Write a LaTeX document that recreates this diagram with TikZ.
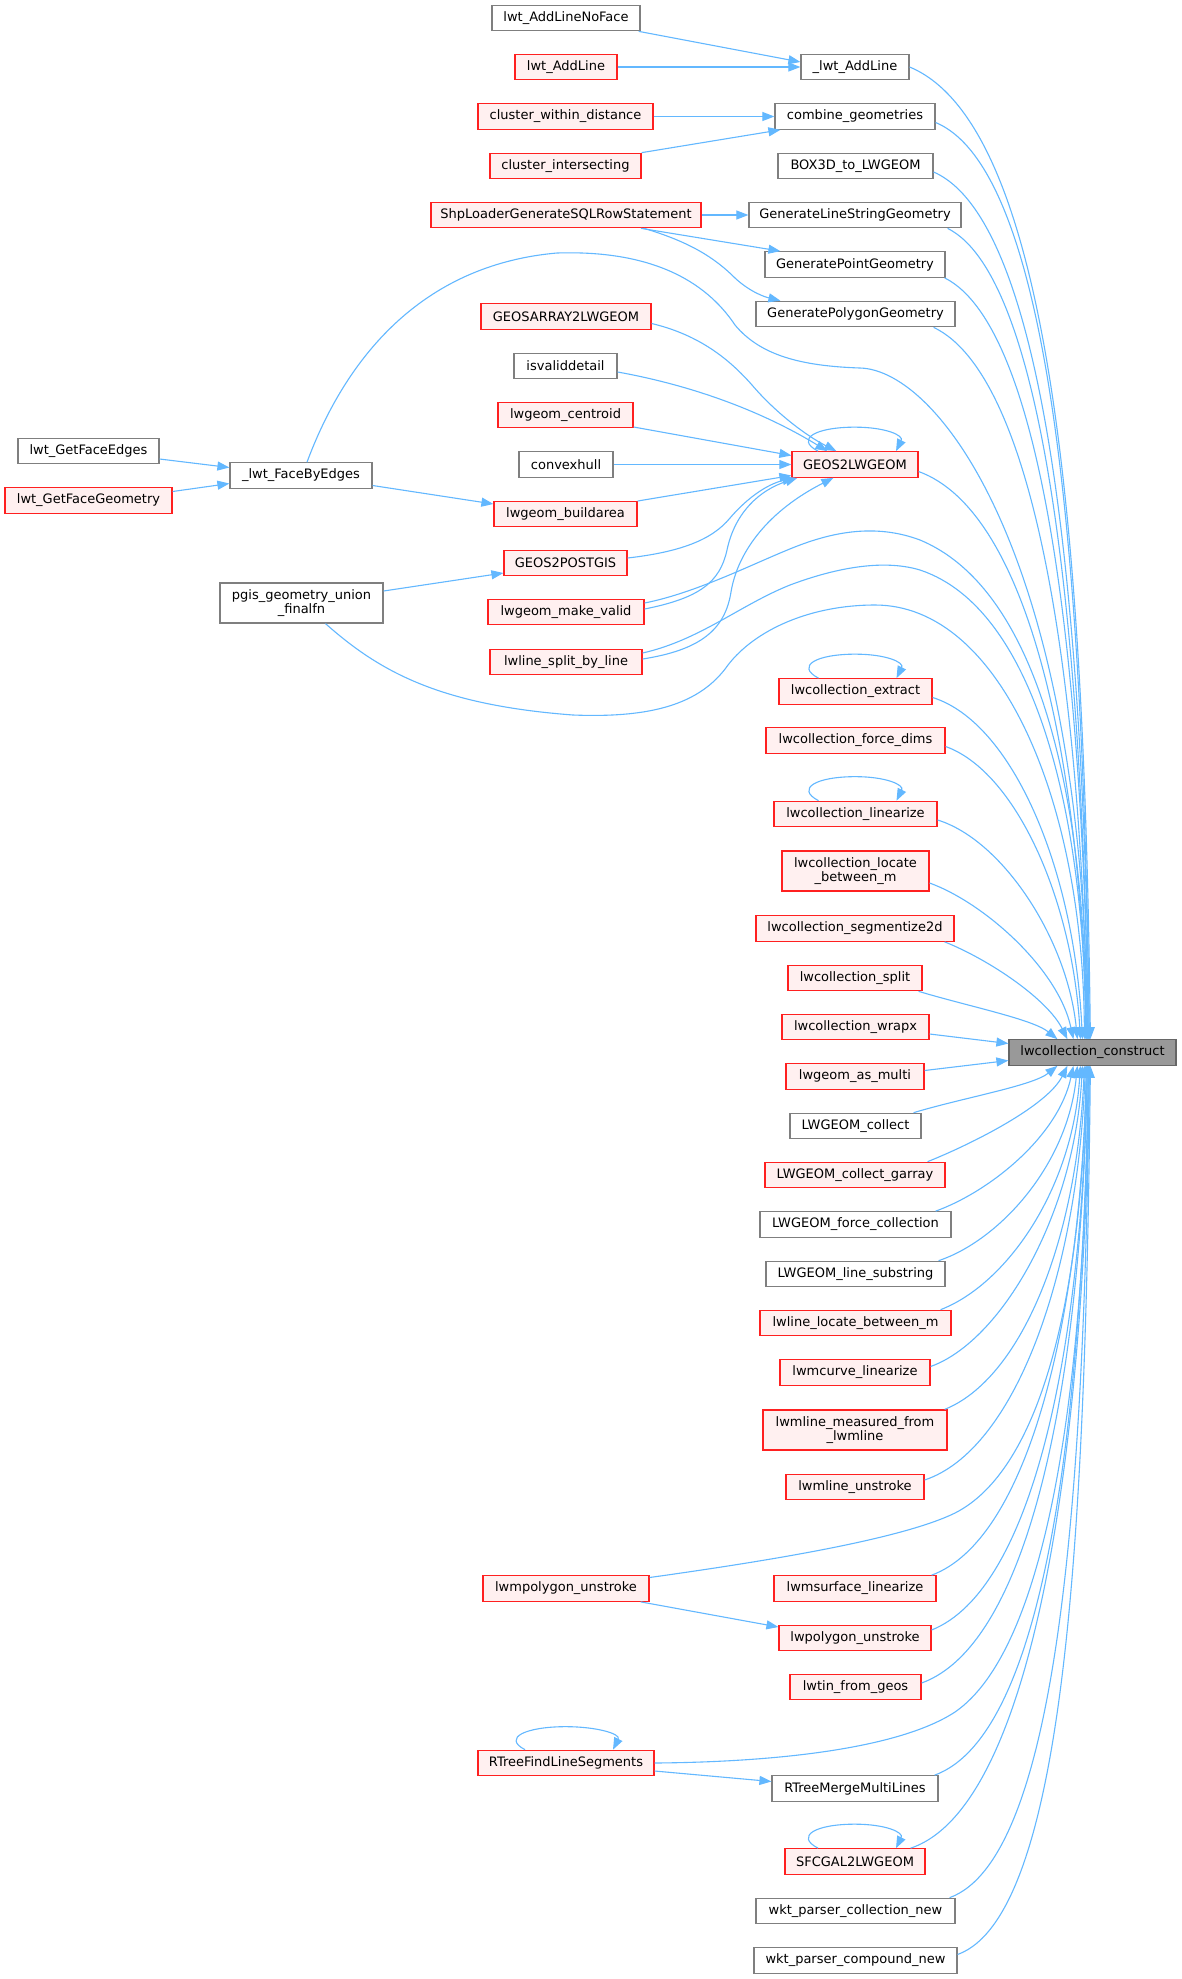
\documentclass[tikz,border=0pt]{standalone}
\usepackage{fontspec}
\setmainfont{DejaVu Sans}
\usetikzlibrary{arrows.meta,calc}
\definecolor{eblue}{HTML}{63B8FF}
\definecolor{rborder}{HTML}{FF2020}
\definecolor{rfill}{HTML}{FFF0F0}
\definecolor{gborder}{HTML}{7F7F7F}
\definecolor{rootfill}{HTML}{999999}
\definecolor{rootborder}{HTML}{666666}
\begin{document}
\begin{tikzpicture}[x=1pt,y=-1pt,
 box/.style={draw, line width=1.2pt, inner sep=0pt, minimum height=25.5pt, font=\fontsize{13}{14.5}\selectfont, align=center},
 rn/.style={box, draw=rborder, fill=rfill},
 gn/.style={box, draw=gborder, fill=white},
 rootn/.style={box, draw=rootborder, fill=rootfill},
 e/.style={draw=eblue, line width=1.1pt, -{Triangle[length=12pt,width=9pt]}},
]
\fill[white] (0,0) rectangle (1181,1979);
\useasboundingbox (0,0) rectangle (1181,1979);

% column 1
\node[gn, minimum width=141pt] (getFaceEdges) at (88.5,451) {lwt\_GetFaceEdges};
\node[rn, minimum width=167pt] (getFaceGeom) at (88.5,500.5) {lwt\_GetFaceGeometry};
% column 2
\node[gn, minimum width=142pt] (faceByEdges) at (301,475.5) {\_lwt\_FaceByEdges};
\node[gn, minimum width=163pt, minimum height=40pt] (pgis) at (301.5,603) {pgis\_geometry\_union\\\_finalfn};
% column 3
\node[gn, minimum width=148pt] (lwtAddLineNoFace) at (566,18) {lwt\_AddLineNoFace};
\node[rn, minimum width=102pt] (lwtAddLine) at (566,67) {lwt\_AddLine};
\node[rn, minimum width=175pt] (clusterWD) at (565.5,116.5) {cluster\_within\_distance};
\node[rn, minimum width=151pt] (clusterI) at (565.5,166) {cluster\_intersecting};
\node[rn, minimum width=270pt] (shpLoader) at (566,215) {ShpLoaderGenerateSQLRowStatement};
\node[rn, minimum width=170pt] (geosArray) at (566,316.5) {GEOSARRAY2LWGEOM};
\node[gn, minimum width=103pt] (isvalid) at (565.5,366) {isvaliddetail};
\node[rn, minimum width=135pt] (centroid) at (565.5,415) {lwgeom\_centroid};
\node[gn, minimum width=94pt] (convexhull) at (566,464.5) {convexhull};
\node[rn, minimum width=143pt] (buildarea) at (565.5,514) {lwgeom\_buildarea};
\node[rn, minimum width=123pt] (geos2postgis) at (565.5,563) {GEOS2POSTGIS};
\node[rn, minimum width=156pt] (makevalid) at (566,612) {lwgeom\_make\_valid};
\node[rn, minimum width=152pt] (splitbyline) at (566,662) {lwline\_split\_by\_line};
\node[rn, minimum width=166pt] (lwmpolygonUn) at (566,1588.5) {lwmpolygon\_unstroke};
\node[rn, minimum width=176pt] (rtreeFind) at (566,1763) {RTreeFindLineSegments};
% column 4
\node[gn, minimum width=108pt] (addLineU) at (855,67) {\_lwt\_AddLine};
\node[gn, minimum width=160pt] (combine) at (855,116.5) {combine\_geometries};
\node[gn, minimum width=155pt] (box3d) at (855.5,166) {BOX3D\_to\_LWGEOM};
\node[gn, minimum width=212pt] (genLS) at (855,215) {GenerateLineStringGeometry};
\node[gn, minimum width=180pt] (genPt) at (855,264.5) {GeneratePointGeometry};
\node[gn, minimum width=199pt] (genPoly) at (855.5,314) {GeneratePolygonGeometry};
\node[rn, minimum width=126pt] (geos2lwgeom) at (855,464.5) {GEOS2LWGEOM};
\node[rn, minimum width=153pt] (lcExtract) at (855.5,691.5) {lwcollection\_extract};
\node[rn, minimum width=179pt] (lcForceDims) at (855.5,740.5) {lwcollection\_force\_dims};
\node[rn, minimum width=163pt] (lcLinearize) at (855.5,814) {lwcollection\_linearize};
\node[rn, minimum width=147pt, minimum height=40pt] (lcLocate) at (855.5,871) {lwcollection\_locate\\\_between\_m};
\node[rn, minimum width=198pt] (lcSeg) at (855,928.5) {lwcollection\_segmentize2d};
\node[rn, minimum width=134pt] (lcSplit) at (855,978) {lwcollection\_split};
\node[rn, minimum width=147pt] (lcWrapx) at (855.5,1027) {lwcollection\_wrapx};
\node[rn, minimum width=138pt] (asMulti) at (855,1076.5) {lwgeom\_as\_multi};
\node[gn, minimum width=131pt] (lwCollect) at (855.5,1126) {LWGEOM\_collect};
\node[rn, minimum width=180pt] (collectGarray) at (855,1175) {LWGEOM\_collect\_garray};
\node[gn, minimum width=191pt] (forceColl) at (855.5,1224.5) {LWGEOM\_force\_collection};
\node[gn, minimum width=179pt] (lineSubstr) at (855.5,1274) {LWGEOM\_line\_substring};
\node[rn, minimum width=191pt] (lwlineLocate) at (855.5,1323) {lwline\_locate\_between\_m};
\node[rn, minimum width=150pt] (lwmcurve) at (855,1372.5) {lwmcurve\_linearize};
\node[rn, minimum width=184pt, minimum height=40pt] (lwmlineMeasured) at (855,1430) {lwmline\_measured\_from\\\_lwmline};
\node[rn, minimum width=138pt] (lwmlineUn) at (855,1487) {lwmline\_unstroke};
\node[rn, minimum width=162pt] (lwmsurface) at (855,1588.5) {lwmsurface\_linearize};
\node[rn, minimum width=152pt] (lwpolygonUn) at (855,1638) {lwpolygon\_unstroke};
\node[rn, minimum width=131pt] (lwtin) at (855.5,1687) {lwtin\_from\_geos};
\node[gn, minimum width=166pt] (rtreeMerge) at (855,1788.5) {RTreeMergeMultiLines};
\node[rn, minimum width=140pt] (sfcgal) at (855,1861.5) {SFCGAL2LWGEOM};
\node[gn, minimum width=199pt] (wktColl) at (855.5,1911) {wkt\_parser\_collection\_new};
\node[gn, minimum width=203pt] (wktComp) at (855.5,1960.5) {wkt\_parser\_compound\_new};
% root
\node[rootn, minimum width=167pt] (root) at (1092.5,1052.5) {lwcollection\_construct};

% ---- edges among callers
\draw[e] ($(getFaceEdges.east)+(0,8)$) -- ($(faceByEdges.west)+(0,-8)$);
\draw[e] ($(getFaceGeom.east)+(0,-9)$) -- ($(faceByEdges.west)+(0,8)$);
\draw[e] ($(faceByEdges.east)+(0,10)$) -- ($(buildarea.west)+(0,-10)$);
\draw[e] ($(pgis.east)+(0,-12)$) -- ($(geos2postgis.west)+(0,10)$);
\draw[e] ($(lwtAddLineNoFace.south east)+(-2,0)$) -- ($(addLineU.west)+(0,-5)$);
\draw[e] (lwtAddLine.east) -- (addLineU.west);
\draw[e] (clusterWD.east) -- (combine.west);
\draw[e] (clusterI.north east) -- ($(combine.south west)+(6,0)$);
\draw[e] (shpLoader.east) -- (genLS.west);
\draw[e] ($(shpLoader.south)+(75,0)$) -- ($(genPt.north west)+(16,0)$);
\draw[e] ($(shpLoader.south)+(78,0)$) .. controls (690,242) and (715,258) .. (735,278) .. controls (750,292) and (765,297) .. ($(genPoly.north west)+(25,0)$);
\draw[e] ($(geosArray.east)+(0,7)$) .. controls (700,335) and (730,360) .. (752,385) .. controls (775,412) and (805,435) .. ($(geos2lwgeom.north west)+(45,0)$);
\draw[e] ($(isvalid.east)+(0,6)$) .. controls (690,385) and (760,410) .. ($(geos2lwgeom.north west)+(36,0)$);
\draw[e] ($(centroid.east)+(0,12)$) -- ($(geos2lwgeom.west)+(0,-9)$);
\draw[e] (convexhull.east) -- (geos2lwgeom.west);
\draw[e] ($(buildarea.east)+(0,-13)$) -- ($(geos2lwgeom.west)+(0,11)$);
\draw[e] ($(geos2postgis.east)+(0,-5)$) .. controls (680,552) and (712,540) .. (730,518) .. controls (748,497) and (768,484) .. ($(geos2lwgeom.south west)+(3,0)$);
\draw[e] ($(makevalid.east)+(0,-3)$) .. controls (700,598) and (720,582) .. (727,550) .. controls (735,512) and (760,490) .. ($(geos2lwgeom.south west)+(6,0)$);
\draw[e] ($(splitbyline.east)+(0,-3)$) .. controls (700,650) and (725,630) .. (731,592) .. controls (738,550) and (770,510) .. ($(geos2lwgeom.south west)+(42,0)$);
\draw[e] ($(lwmpolygonUn.south east)+(-9,0)$) -- ($(lwpolygonUn.west)+(0,-11)$);
\draw[e] ($(rtreeFind.east)+(0,8)$) -- ($(rtreeMerge.west)+(0,-7)$);

% ---- self loops
\draw[e] ($(geos2lwgeom.north)+(-37,0)$) .. controls +(-23,-12) and +(-40,0) .. ($(geos2lwgeom.north)+(0,-24)$) .. controls +(30,0) and +(8,-16) .. ($(geos2lwgeom.north)+(41,0)$);
\draw[e] ($(lcExtract.north)+(-37,0)$) .. controls +(-23,-12) and +(-40,0) .. ($(lcExtract.north)+(0,-24)$) .. controls +(30,0) and +(8,-16) .. ($(lcExtract.north)+(41,0)$);
\draw[e] ($(lcLinearize.north)+(-37,0)$) .. controls +(-23,-12) and +(-40,0) .. ($(lcLinearize.north)+(0,-24)$) .. controls +(30,0) and +(8,-16) .. ($(lcLinearize.north)+(41,0)$);
\draw[e] ($(sfcgal.north)+(-37,0)$) .. controls +(-23,-12) and +(-40,0) .. ($(sfcgal.north)+(0,-24)$) .. controls +(30,0) and +(8,-16) .. ($(sfcgal.north)+(41,0)$);
\draw[e] ($(rtreeFind.north)+(-41,0)$) .. controls +(-23,-12) and +(-40,0) .. ($(rtreeFind.north)+(0,-23)$) .. controls +(30,0) and +(8,-16) .. ($(rtreeFind.north)+(47,0)$);

% ---- edges into root, from above
\draw[e] (addLineU.east) .. controls +(145,60) and +(-6,-480) .. ($(root.north west)+(82,0)$);
\draw[e] ($(combine.east)+(0,6)$) .. controls +(120,50) and +(-6,-450) .. ($(root.north west)+(81,0)$);
\draw[e] ($(box3d.east)+(0,6)$) .. controls +(115,50) and +(-6,-420) .. ($(root.north west)+(81,0)$);
\draw[e] ($(genLS.south east)+(-14,0)$) .. controls +(100,50) and +(-6,-390) .. ($(root.north west)+(80,0)$);
\draw[e] ($(genPt.south east)+(-1,0)$) .. controls +(100,50) and +(-6,-370) .. ($(root.north west)+(80,0)$);
\draw[e] ($(genPoly.south east)+(-22,0)$) .. controls +(105,50) and +(-6,-340) .. ($(root.north west)+(79,0)$);
\draw[e] ($(faceByEdges.north)+(6,0)$) .. controls (345,360) and (420,265) .. (557,253) .. controls (650,250) and (705,280) .. (735,325) .. controls (760,355) and (800,366) .. (860,368) .. controls (940,370) and (1083,560) .. ($(root.north west)+(79,0)$);
\draw[e] ($(geos2lwgeom.east)+(0,7)$) .. controls +(110,40) and +(-6,-280) .. ($(root.north west)+(78,0)$);
\draw[e] ($(makevalid.east)+(0,-9)$) .. controls (700,592) and (760,560) .. (800,545) .. controls (840,530) and (880,525) .. (920,540) .. controls (1040,590) and (1085,800) .. ($(root.north west)+(78,0)$);
\draw[e] ($(splitbyline.east)+(0,-9)$) .. controls (700,640) and (740,605) .. (790,585) .. controls (830,570) and (880,558) .. (920,570) .. controls (1040,610) and (1085,830) .. ($(root.north west)+(77,0)$);
\draw[e] ($(pgis.south)+(24,0)$) .. controls (380,672) and (440,705) .. (573,715) .. controls (650,718) and (700,705) .. (728,665) .. controls (755,630) and (810,605) .. (875,605) .. controls (1000,605) and (1083,800) .. ($(root.north west)+(76,0)$);
\draw[e] ($(lcExtract.east)+(0,6)$) .. controls +(80,25) and +(-8,-170) .. ($(root.north west)+(74,0)$);
\draw[e] ($(lcForceDims.east)+(0,6)$) .. controls +(70,25) and +(-8,-140) .. ($(root.north west)+(72,0)$);
\draw[e] ($(lcLinearize.east)+(0,6)$) .. controls +(65,20) and +(-10,-100) .. ($(root.north west)+(69,0)$);
\draw[e] ($(lcLocate.east)+(0,12)$) .. controls +(55,20) and +(-15,-70) .. ($(root.north west)+(65,0)$);
\draw[e] ($(lcSeg.south east)+(-10,0)$) .. controls +(45,18) and +(-20,-40) .. ($(root.north west)+(59,0)$);
\draw[e] ($(lcSplit.south east)+(-4,0)$) .. controls +(50,15) and +(-25,-20) .. ($(root.north west)+(49,0)$);
\draw[e] ($(lcWrapx.east)+(0,7)$) -- ($(root.west)+(0,-9)$);
% ---- edges into root, from below
\draw[e] ($(asMulti.east)+(0,-6)$) -- ($(root.west)+(0,8)$);
\draw[e] ($(lwCollect.north east)+(-8,0)$) .. controls +(50,-15) and +(-25,20) .. ($(root.south west)+(49,0)$);
\draw[e] ($(collectGarray.north east)+(-18,0)$) .. controls +(45,-18) and +(-20,40) .. ($(root.south west)+(59,0)$);
\draw[e] ($(forceColl.north east)+(-16,0)$) .. controls +(55,-20) and +(-15,70) .. ($(root.south west)+(65,0)$);
\draw[e] ($(lineSubstr.north east)+(-7,0)$) .. controls +(60,-20) and +(-10,100) .. ($(root.south west)+(69,0)$);
\draw[e] ($(lwlineLocate.north east)+(-11,0)$) .. controls +(65,-25) and +(-8,125) .. ($(root.south west)+(72,0)$);
\draw[e] ($(lwmcurve.east)+(0,-6)$) .. controls +(70,-25) and +(-8,150) .. ($(root.south west)+(74,0)$);
\draw[e] ($(lwmlineMeasured.north east)+(-3,0)$) .. controls +(75,-30) and +(-8,180) .. ($(root.south west)+(76,0)$);
\draw[e] ($(lwmlineUn.east)+(0,-7)$) .. controls +(90,-30) and +(-8,210) .. ($(root.south west)+(77,0)$);
\draw[e] ($(lwmpolygonUn.east)+(0,-11)$) .. controls (760,1562) and (900,1540) .. (955,1513) .. controls (1040,1470) and (1082,1300) .. ($(root.south west)+(78,0)$);
\draw[e] ($(lwmsurface.north east)+(-5,0)$) .. controls +(95,-35) and +(-6,260) .. ($(root.south west)+(78,0)$);
\draw[e] ($(lwpolygonUn.east)+(0,-8)$) .. controls +(100,-40) and +(-6,290) .. ($(root.south west)+(79,0)$);
\draw[e] ($(lwtin.east)+(0,-4)$) .. controls +(110,-40) and +(-6,310) .. ($(root.south west)+(79,0)$);
\draw[e] (rtreeFind.east) .. controls (780,1762) and (900,1748) .. (955,1712) .. controls (1045,1650) and (1085,1400) .. ($(root.south west)+(80,0)$);
\draw[e] ($(rtreeMerge.north east)+(-4,0)$) .. controls +(110,-40) and +(-6,360) .. ($(root.south west)+(80,0)$);
\draw[e] ($(sfcgal.north east)+(-15,0)$) .. controls +(120,-40) and +(-5,400) .. ($(root.south west)+(81,0)$);
\draw[e] ($(wktColl.north east)+(-6,0)$) .. controls +(110,-40) and +(-5,420) .. ($(root.south west)+(81,0)$);
\draw[e] ($(wktComp.east)+(0,-6)$) .. controls +(110,-40) and +(-5,450) .. ($(root.south west)+(82,0)$);
\end{tikzpicture}
\end{document}
